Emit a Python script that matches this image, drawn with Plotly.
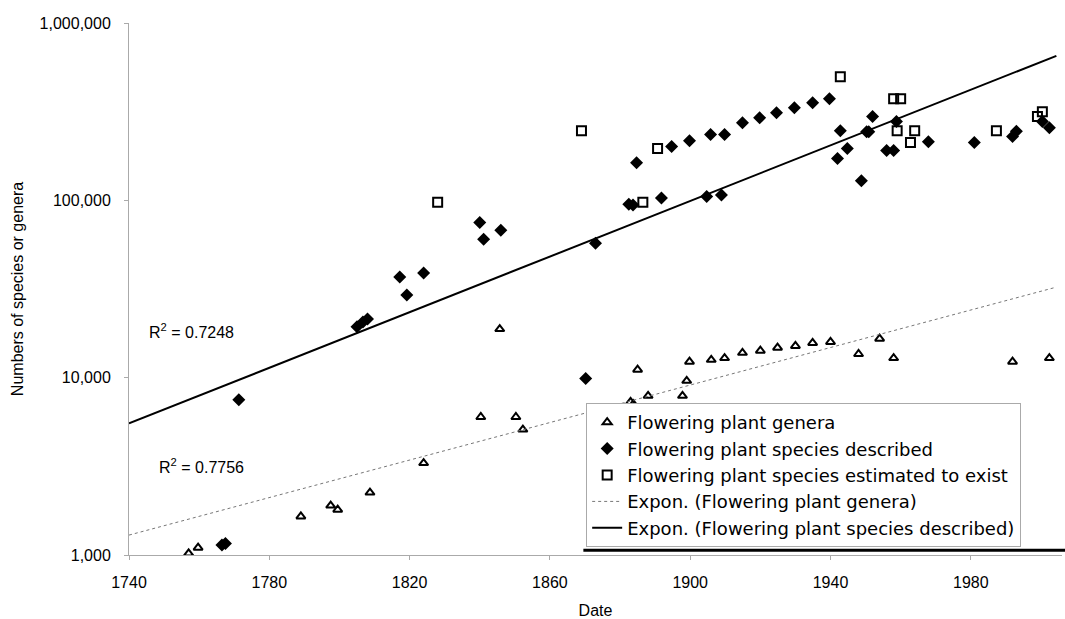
import math
import plotly.graph_objects as go

# ---- data ----
genera_year = [1757, 1759.7, 1789, 1797.5, 1799.5, 1808.7, 1824, 1840.3, 1845.7, 1850.3, 1852.3,
               1883, 1883.8, 1885, 1888, 1897.8, 1899, 1899.8, 1906, 1909.8, 1914.9, 1920,
               1924.9, 1930, 1934.9, 1940, 1948, 1954, 1958, 1991.9, 2002.4]
genera_val = [1020, 1100, 1650, 1900, 1800, 2250, 3300, 6000, 18800, 6000, 5100,
              7300, 7100, 11100, 7900, 7900, 9600, 12300, 12600, 12900, 13800, 14200,
              14750, 15100, 15700, 15900, 13600, 16600, 12900, 12300, 12900]

species_year = [1766.5, 1767.5, 1771.3, 1805, 1806.7, 1808, 1817.2, 1819.2, 1824, 1840, 1841.1,
                1846, 1870.2, 1873, 1882.5, 1883.7, 1884.7, 1891.8, 1894.7, 1899.8, 1904.7,
                1905.8, 1908.9, 1909.8, 1914.9, 1919.8, 1924.6, 1929.7, 1934.9, 1939.7,
                1942, 1942.8, 1944.8, 1948.8, 1950.3, 1950.9, 1952, 1956, 1958, 1958.8,
                1967.9, 1981, 1991.9, 1993, 2000.4, 2002.4]
species_val = [1140, 1160, 7500, 19400, 20600, 21400, 36900, 29300, 38900, 75100, 60400,
               67800, 9900, 57300, 95000, 94000, 163000, 103000, 201000, 217000, 105000,
               235000, 107000, 235000, 274000, 292000, 312000, 333000, 355000, 374000,
               172000, 247000, 196000, 129000, 244000, 244000, 297000, 191000, 191000, 278000,
               214000, 212000, 229000, 245000, 278000, 257000]

estimated_year = [1828, 1869, 1886.5, 1890.7, 1942.8, 1958, 1960, 1959, 1964, 1962.8, 1987.3, 1999, 2000.4]
estimated_val = [97500, 247000, 97500, 196000, 498000, 374000, 374000, 247000, 247000, 212000, 247000, 297000, 316000]

# exponential trendlines (values read at the ends of each line)
trend_year = [1740, 2004.4]
trend_genera = [1295, 32400]
trend_species = [5520, 653000]

r2_labels = ["R<sup>2</sup> = 0.7248", "R<sup>2</sup> = 0.7756"]
r2_pos_year = [1745.2, 1748.0]
r2_pos_val = [18400, 3160]

y_tickvals = [1000, 10000, 100000, 1000000]
y_ticktext = ["1,000", "10,000", "100,000", "1,000,000"]
x_tickvals = [1740, 1780, 1820, 1860, 1900, 1940, 1980]

FONT = "Liberation Sans, Arial, sans-serif"
LEGEND_FONT = "DejaVu Sans, Liberation Sans, Arial, sans-serif"

fig = go.Figure()
fig.add_trace(go.Scatter(
    x=genera_year, y=genera_val, mode="markers", name="Flowering plant genera",
    marker=dict(symbol="triangle-up-open", size=8, color="black", line=dict(width=2, color="black"))))
fig.add_trace(go.Scatter(
    x=species_year, y=species_val, mode="markers", name="Flowering plant species described",
    marker=dict(symbol="diamond", size=10, color="black")))
fig.add_trace(go.Scatter(
    x=estimated_year, y=estimated_val, mode="markers", name="Flowering plant species estimated to exist",
    marker=dict(symbol="square-open", size=9, color="black", line=dict(width=2, color="black"))))
fig.add_trace(go.Scatter(
    x=trend_year, y=trend_genera, mode="lines", name="Expon. (Flowering plant genera)",
    line=dict(color="#777777", width=1, dash="dot")))
fig.add_trace(go.Scatter(
    x=trend_year, y=trend_species, mode="lines", name="Expon. (Flowering plant species described)",
    line=dict(color="black", width=2)))

for txt, xx, yy in zip(r2_labels, r2_pos_year, r2_pos_val):
    fig.add_annotation(x=xx, y=math.log10(yy), yref="y", xref="x", text=txt, showarrow=False,
                       xanchor="left", yanchor="middle",
                       font=dict(family=FONT, size=16, color="black"))

# shadow line under the legend box
fig.add_shape(type="line", xref="paper", yref="paper", x0=0.487, x1=1.01, y0=0.009, y1=0.009,
              line=dict(color="black", width=3))

fig.update_layout(
    width=1065, height=619,
    margin=dict(l=129, r=3, t=23, b=62),
    paper_bgcolor="white", plot_bgcolor="white",
    font=dict(family=FONT, color="black", size=16),
    showlegend=True,
    legend=dict(x=0.49, y=0.015, xanchor="left", yanchor="bottom",
                bgcolor="white", bordercolor="#aaaaaa", borderwidth=1,
                font=dict(family=LEGEND_FONT, size=18, color="black"),
                tracegroupgap=0, itemwidth=30),
)
fig.update_xaxes(range=[1740, 2006], tickvals=x_tickvals, showgrid=False, zeroline=False,
                 showline=True, linecolor="#aaaaaa", linewidth=1,
                 ticks="outside", ticklen=4, tickcolor="#aaaaaa", ticklabelstandoff=9,
                 tickfont=dict(family=FONT, size=16, color="black"),
                 title=dict(text="Date", font=dict(family=FONT, size=16, color="black"), standoff=14))
fig.update_yaxes(type="log", range=[3, 6], tickvals=y_tickvals, ticktext=y_ticktext,
                 showgrid=False, zeroline=False,
                 showline=True, linecolor="#aaaaaa", linewidth=1,
                 ticks="outside", ticklen=4, tickcolor="#aaaaaa", ticklabelstandoff=10,
                 tickfont=dict(family=FONT, size=16, color="black"),
                 title=dict(text="Numbers of species or genera", font=dict(family=FONT, size=16, color="black"), standoff=12))

fig.write_html("out.html")
